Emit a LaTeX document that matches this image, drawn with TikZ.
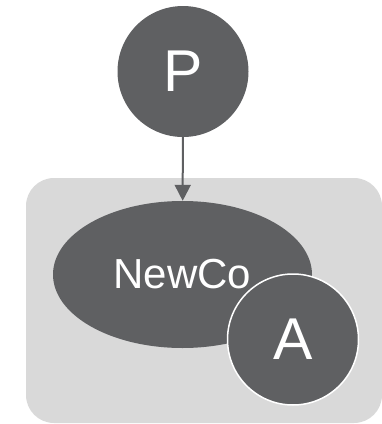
\documentclass[tikz,border=0pt]{standalone}
\usepackage{fontspec}
\setmainfont{Liberation Sans}
\usetikzlibrary{shapes.geometric,arrows.meta}
\definecolor{darkfill}{HTML}{5F6062}
\definecolor{panel}{HTML}{D9D9D9}
\begin{document}
\begin{tikzpicture}[x=1pt,y=-1pt,
  entity/.style={circle,fill=darkfill,text=white,inner sep=0pt,minimum size=131pt},
  company/.style={ellipse,fill=darkfill,text=white,inner sep=0pt,minimum width=259pt,minimum height=147pt},
  link/.style={draw=darkfill,line width=2pt,-{Triangle[length=16pt,width=16pt]}}]
  \useasboundingbox (0,0) rectangle (382,424);
  % group panel
  \fill[panel,rounded corners=28pt] (26,178) rectangle (382,423);
  \node[entity,font=\fontsize{59}{62}\selectfont] (P) at (183,71.5) {P};
  \node[company,font=\fontsize{42}{46}\selectfont] (N) at (182.5,274.5) {NewCo};
  \node[entity,draw=white,line width=1.5pt,font=\fontsize{59}{62}\selectfont] (A) at (293,339.5) {A};
  \draw[link] (P) -- (N);
\end{tikzpicture}
\end{document}
